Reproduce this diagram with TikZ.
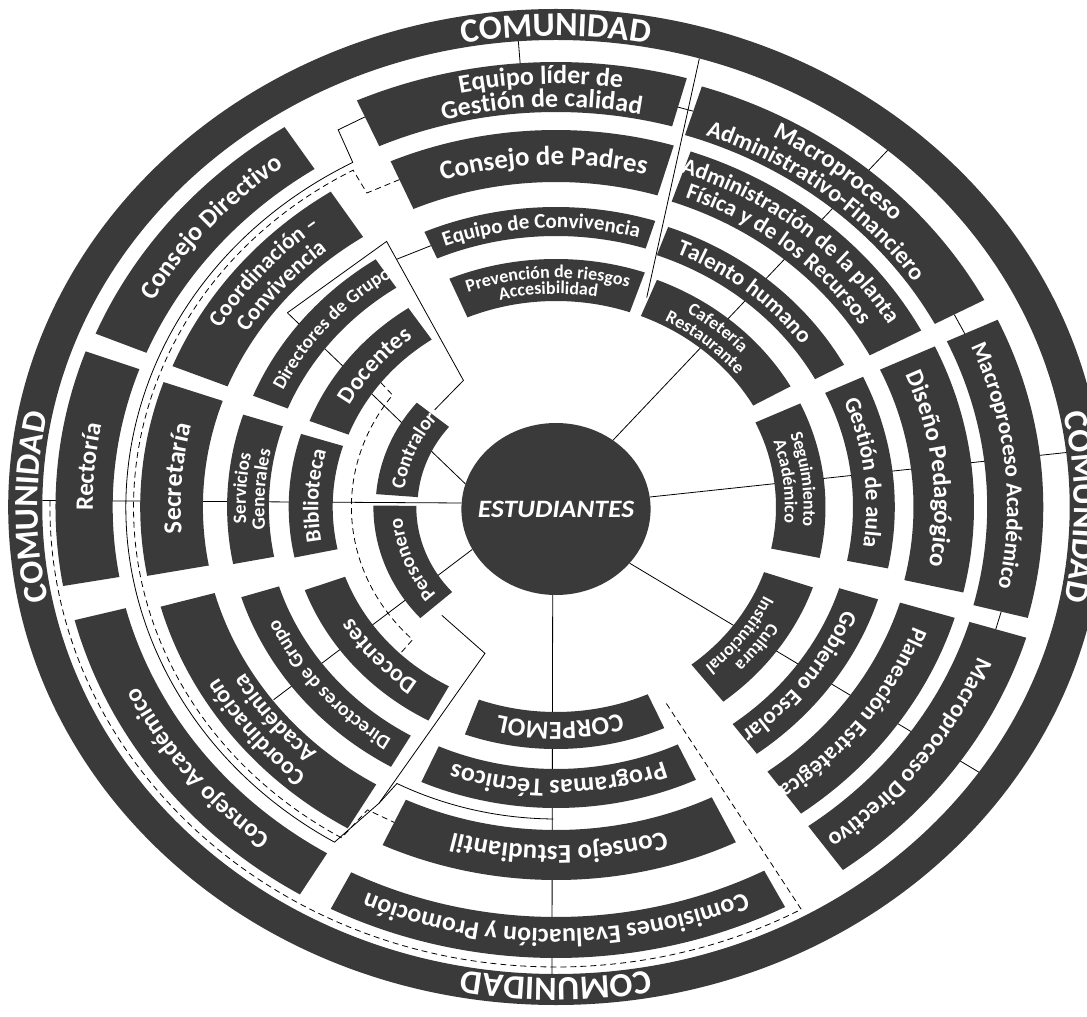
\documentclass[tikz,border=0pt]{standalone}
\usepackage{fontspec}
\setmainfont{Carlito}
\usetikzlibrary{decorations.text}
\definecolor{boxgray}{HTML}{3A3A3A}
% label bent along an arc: centre angle, baseline radius, size, text
\newcommand{\arclabel}[4]{%
  \path[arctext={#3}{#4}] ({#1+60}:#2) arc[start angle={#1+60}, end angle={#1-60}, radius=#2];}

\begin{document}
\begin{tikzpicture}[x=1pt, y=1pt, xscale=1.1,
        segbox/.style={fill=boxgray},
        link/.style={line width=0.8pt},
        dashlink/.style={line width=0.8pt, dash pattern=on 6pt off 4pt},
        arctext/.style 2 args={decorate, decoration={text along path, text align=center,
            text color=white, text={|\fontsize{#1}{#1}\selectfont\bfseries|#2}}},
        ]
        \useasboundingbox (-505.45,-510) rectangle (482.73,507);
        \clip (-505.45,-510) rectangle (482.73,507);

        %Ring
        \fill[segbox, even odd rule] (0,0) circle[radius=498] (0,0) circle[radius=467];

        %Nodes
        \node[circle, fill=boxgray, minimum size=172, inner sep=0pt, transform shape, text=white,
              font=\fontsize{25}{25}\selectfont\bfseries\itshape] (est) at (0,-2) {ESTUDIANTES};

        \coordinate (rimNE) at (49.8:467);
        \coordinate (rimE)  at (6.7:467);
        \coordinate (rimSE) at (-34.6:467);
        \coordinate (rimS)  at (-90.45:467);
        \coordinate (rimW)  at (179.2:467);
        \coordinate (rimN)  at (94.2:467);
        \coordinate (rimNN) at (73.8:467);
        \coordinate (eqlTop) at (94.2:445);
        \coordinate (prevR) at (68.5:225);
        \coordinate (eqlR)  at (74.5:415);
        \coordinate (mafL)  at (72.5:415);
        \coordinate (mafR)  at (28:410);
        \coordinate (macL)  at (25:410);
        \coordinate (macR)  at (-14.5:418);
        \coordinate (madL)  at (-17:418);
        \coordinate (A) at (141.5:312);
        \coordinate (B) at (120.1:307);
        \coordinate (C) at (123.6:152);
        \coordinate (D) at (138.6:147);
        \coordinate (E) at (120.3:287);
        \coordinate (F) at (226.2:150);
        \coordinate (G) at (246.2:160);
        \coordinate (H) at (241.5:337);
        \coordinate (I) at (242.4:312);
        \coordinate (K) at (216.9:321);
        \coordinate (eqlL) at (114:427);
        \coordinate (cpL)  at (113.5:357);
        \coordinate (ecL)  at (113.5:285);
        \coordinate (ceL)  at (245:348);
        \coordinate (docU) at (142:202);
        \coordinate (docL) at (226:204);
        \coordinate (dashW) at (179.2:460);
        \coordinate (corR) at (-63:218);

        %Lines
        \draw[link] (est.53)  -- (rimNE);
        \draw[link] (est.8)   -- (rimE);
        \draw[link] (est.321) -- (rimSE);
        \draw[link] (est.268) -- (rimS);
        \draw[link] (est.176) -- (rimW);
        \draw[link] (est.163) -- (A);
        \draw[link] (est.208) -- (K);
        \draw[link] (rimN)  -- (eqlTop);
        \draw[link] (rimNN) -- (prevR);
        \draw[link] (eqlR)  -- (mafL);
        \draw[link] (mafR)  -- (macL);
        \draw[link] (macR)  -- (madL);
        \draw[link] (A) -- (B) -- (C) -- (D);
        \draw[link] (ecL) -- (E);
        \draw[link] (F) -- (G) -- (H);
        \draw[link] (H) -- (I) arc[start angle=242.4, end angle=269.55, radius=312];
        \draw[link] (eqlL) -- (117.7:426) -- (118.2:391) arc[start angle=118.2, end angle=239, radius=391] -- (H);
        \draw[dashlink] (cpL) -- (118.7:358) -- (118.7:384) arc[start angle=118.7, end angle=239.5, radius=384] -- (240.5:348) -- (ceL);
        \draw[dashlink] (docU) -- (143:186) arc[start angle=143, end angle=225.5, radius=186] -- (docL);
        \draw[dashlink] (dashW) arc[start angle=179.2, end angle=299, radius=460] -- (corR);

        %Boxes
        \foreach \a/\b/\ri/\ro in {
            74.5/114/395/445, 73.5/113.5/325/377, 72.5/113.5/271/300, 71/113/206/248,
            28/72.5/390/441, 28/71/323/376, 28.5/70/268/298, 29.5/68/206/245,
            -12/25/200/245, -11.5/25/270/308, -13/25/325/380, -14.5/25/392/443,
            -52/-19/200/247, -53.5/-17.5/270/307, -54/-17/327/379, -54.3/-17/393/447,
            -110/-66/205/242, -114/-65/262/301, -115/-64/323/373, -117/-62.5/410/451,
            179.5/222/127/166, 200/241.5/204/243, 197.5/240/264/300, 195.5/239.5/322/373, 194.5/239/404/452,
            160/190/403/455, 160.7/190.5/321/378, 162/191/261/299, 162.5/192/203/243,
            123/157.5/403/453, 123/158/322/376, 123.5/158/263/297, 124/159/202/240, 140.5/175.5/126/164}
            \fill[segbox] (\a:\ro) arc[start angle=\a, end angle=\b, radius=\ro]
                -- (\b:\ri) arc[start angle=\b, end angle=\a, radius=\ri] -- cycle;

        %Labels
        \arclabel{90}{471}{34}{COMUNIDAD}
        \arclabel{-90}{471}{34}{COMUNIDAD}
        \arclabel{180}{471}{34}{COMUNIDAD}
        \arclabel{0}{471}{34}{COMUNIDAD}

        \arclabel{92}{423}{26}{Equipo líder de}
        \arclabel{92}{400}{26}{Gestión de calidad}
        \arclabel{92}{342}{27}{Consejo de Padres}
        \arclabel{93}{279}{21}{Equipo de Convivencia}
        \arclabel{92}{229}{18}{Prevención de riesgos}
        \arclabel{92}{213}{18}{Accesibilidad}

        \arclabel{50.5}{419}{25}{Macroproceso}
        \arclabel{50.5}{396}{24}{Administrativo-Financiero}
        \arclabel{49.5}{353}{23}{Administración de la planta}
        \arclabel{49.5}{331}{23}{Física y de los Recursos}
        \arclabel{49.5}{276}{23}{Talento humano}
        \arclabel{48.5}{228}{18}{Cafetería}
        \arclabel{48.5}{211}{18}{Restaurante}

        \arclabel{6.5}{225}{18}{Seguimiento}
        \arclabel{6.5}{208}{18}{Académico}
        \arclabel{6.5}{282}{23}{Gestión de aula}
        \arclabel{6}{344}{25}{Diseño Pedagógico}
        \arclabel{5.5}{410}{23}{Macroproceso Académico}

        \arclabel{-35.5}{226}{18}{Cultura}
        \arclabel{-35.5}{209}{18}{Institucional}
        \arclabel{-35.5}{281}{23}{Gobierno Escolar}
        \arclabel{-35.5}{346}{23}{Planeación Estratégica}
        \arclabel{-35.5}{412}{24}{Macroproceso Directivo}

        \arclabel{-89}{215}{26}{CORPEMOL}
        \arclabel{-89.5}{273}{26}{Programas Técnicos}
        \arclabel{-89.5}{339}{27}{Consejo Estudiantil}
        \arclabel{-90}{422}{26}{Comisiones Evaluación y Promoción}

        \arclabel{200.5}{140}{20}{Personero}
        \arclabel{220.75}{216}{24}{Docentes}
        \arclabel{218.75}{276}{20}{Directores de Grupo}
        \arclabel{217.5}{351}{24}{Coordinación}
        \arclabel{217.5}{328}{24}{Académica}
        \arclabel{216.75}{420}{25}{Consejo Académico}

        \arclabel{175}{421}{25}{Rectoría}
        \arclabel{175.6}{341}{26}{Secretaría}
        \arclabel{176.5}{282}{19}{Servicios}
        \arclabel{176.5}{265}{19}{Generales}
        \arclabel{177.25}{216}{22}{Biblioteca}

        \arclabel{140.25}{420}{26}{Consejo Directivo}
        \arclabel{140.5}{353}{23}{Coordinación –}
        \arclabel{140.5}{330}{23}{Convivencia}
        \arclabel{140.75}{274}{19}{Directores de Grupo}
        \arclabel{141.5}{213}{24}{Docentes}
        \arclabel{158}{139}{20}{Contralor}
    \end{tikzpicture}
\end{document}
